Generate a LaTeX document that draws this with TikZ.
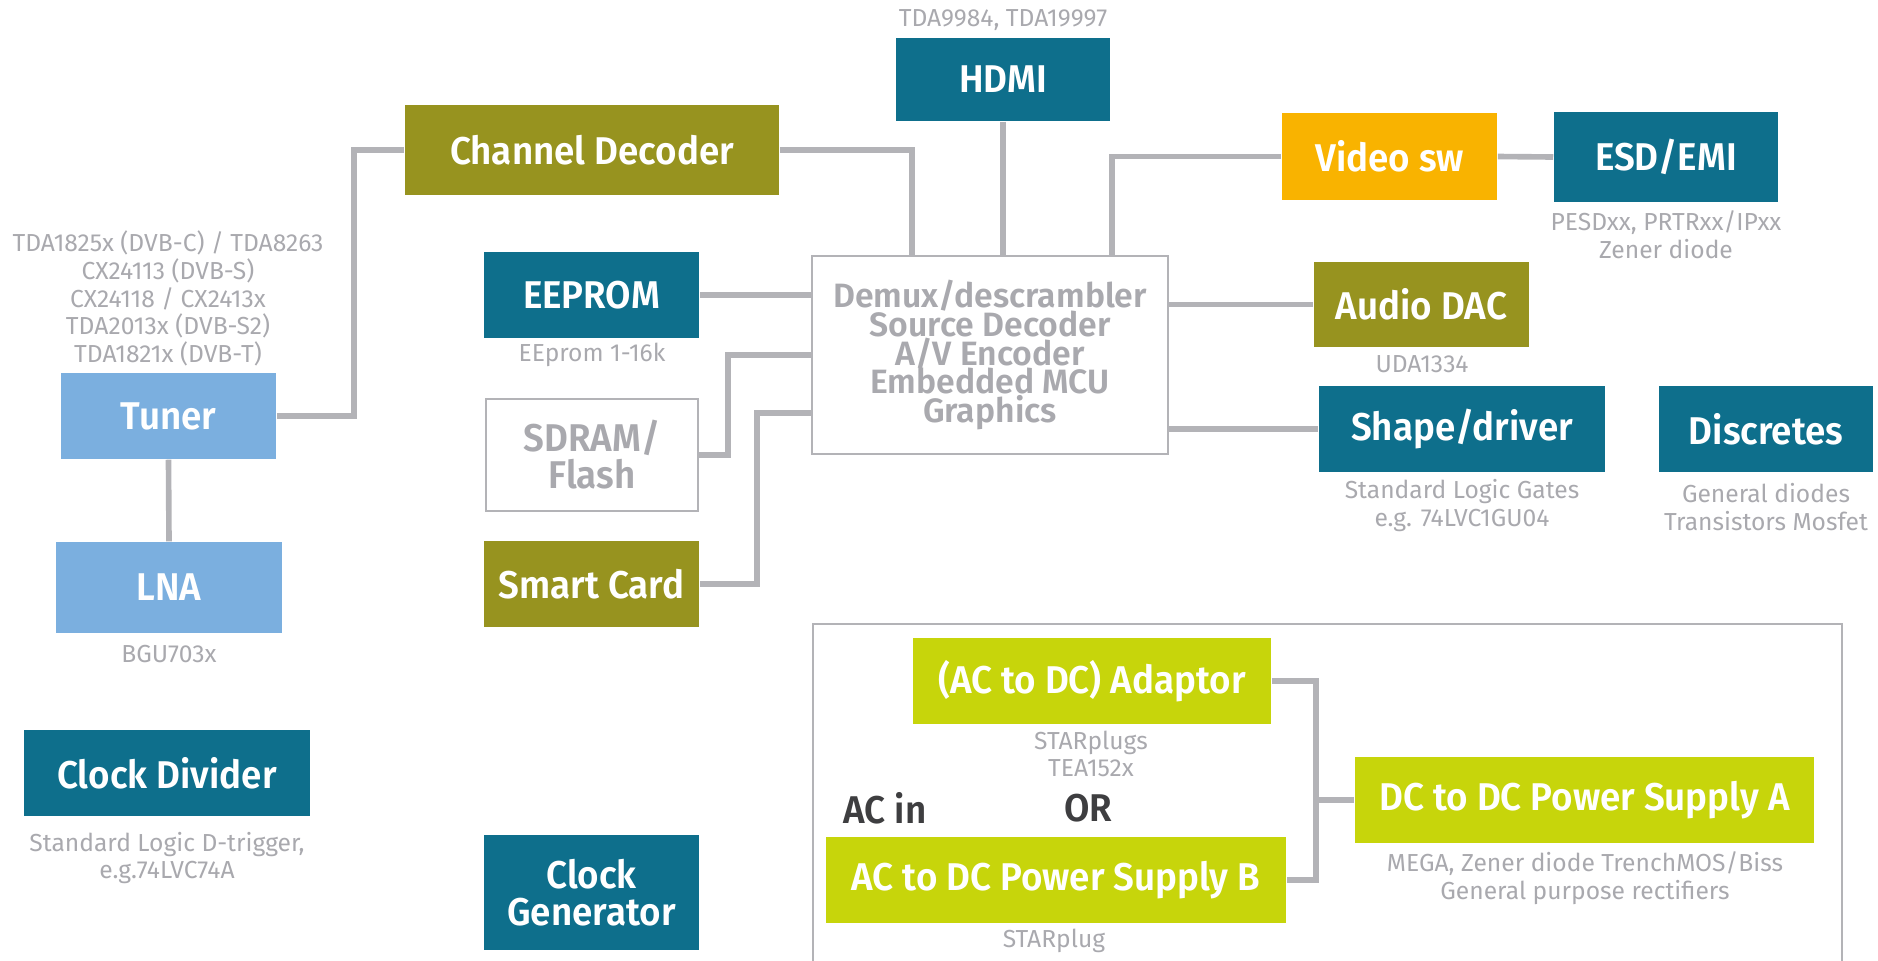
\documentclass[tikz,border=0pt]{standalone}
\usepackage{fontspec}
\setmainfont{Fira Sans}
\newfontfamily\boxfont[FakeStretch=0.95]{Fira Sans SemiBold}
\newfontfamily\corefont{Fira Sans SemiBold}
\newcommand\tightlines{\lineskiplimit=-20pt\relax\lineskip=0pt\relax}
\definecolor{boxteal}{HTML}{0E6F8C}
\definecolor{boxolive}{HTML}{97931F}
\definecolor{boxblue}{HTML}{7BAFDF}
\definecolor{boxyellow}{HTML}{F9B300}
\definecolor{boxlime}{HTML}{C7D50B}
\definecolor{wiregray}{HTML}{B3B3B7}
\definecolor{notegray}{HTML}{A9A9AE}
\definecolor{textdark}{HTML}{3E3E40}
\tikzset{
  box/.style={minimum width=2.15cm, minimum height=0.86cm, inner sep=0pt,
    text=white, align=center, font=\boxfont\fontsize{11}{10.5}\selectfont},
  tealbox/.style={box, fill=boxteal},
  olivebox/.style={box, fill=boxolive},
  bluebox/.style={box, fill=boxblue},
  yellowbox/.style={box, fill=boxyellow},
  limebox/.style={box, fill=boxlime},
  framebox/.style={box, draw=wiregray, line width=0.7pt, text=notegray},
  note/.style={text=notegray, align=center, inner sep=0pt,
    font=\fontsize{7}{7.9}\selectfont},
  wire/.style={draw=wiregray, line width=1.6pt}
}
\begin{document}
\begin{tikzpicture}[x=0.01cm, y=-0.01cm]
  \useasboundingbox (0,0) rectangle (1878,960);
  % tuner chain
  \node[bluebox] (tuner) at (168.5,416) {Tuner};
  \node[bluebox, minimum width=2.26cm, minimum height=0.91cm] (lna) at (169,587.5) {LNA};
  \node[note] (tunernote) at (168,298.5) {TDA1825x (DVB-C) / TDA8263\\CX24113 (DVB-S)\\CX24118 / CX2413x\\TDA2013x (DVB-S2)\\TDA1821x (DVB-T)};
  \node[note] (lnanote) at (169,654) {BGU703x};
  \node[olivebox, minimum width=3.74cm, minimum height=0.9cm] (chan) at (592,150) {Channel Decoder};
  \draw[wire] (tuner.east) -- ++(77,0) |- (chan.west);
  \draw[wire] (tuner.south) -- (lna.north);
  % left column
  \node[tealbox] (eeprom) at (591.5,295) {EEPROM};
  \node[note] (eepromnote) at (592,355) {EEprom 1-16k};
  \node[framebox, minimum width=2.12cm, minimum height=1.12cm] (sdram) at (592,455) {SDRAM/\\Flash};
  \node[olivebox] (smart) at (591.5,584) {Smart Card};
  \node[tealbox, minimum width=2.86cm] (clkdiv) at (167,773) {Clock Divider};
  \node[note] (clkdivnote) at (167,858) {Standard Logic D-trigger,\\e.g.74LVC74A};
  \node[tealbox, minimum height=1.15cm] (clkgen) at (591.5,892.5) {Clock\\Generator};
  % core
  \node[framebox, minimum width=3.56cm, minimum height=1.98cm,
    font=\corefont\fontsize{9.6}{8.2}\selectfont\tightlines] (demux) at (990,355)
    {Demux/descrambler\\Source Decoder\\A/V Encoder\\Embedded MCU\\Graphics};
  \node[tealbox, minimum width=2.14cm, minimum height=0.83cm] (hdmi) at (1003,79.5) {HDMI};
  \node[note] (hdminote) at (1003,20) {TDA9984, TDA19997};
  \draw[wire] (chan.east) -| ([xshift=-0.78cm]demux.north);
  \draw[wire] (hdmi.south) -- (hdmi.south |- demux.north);
  \draw[wire] (eeprom.east) -- (eeprom.east -| demux.west);
  \draw[wire] (sdram.east) -- ++(29,0) |- (demux.west);
  \draw[wire] (smart.east) -- ++(57,0) |- ([yshift=-0.58cm]demux.west);
  % right side
  \node[yellowbox, minimum height=0.87cm] (video) at (1389.5,156.5) {Video sw};
  \node[tealbox, minimum width=2.24cm, minimum height=0.9cm] (esd) at (1666,157) {ESD/EMI};
  \node[note] (esdnote) at (1666,234.5) {PESDxx, PRTRxx/IPxx\\Zener diode};
  \node[olivebox, minimum height=0.85cm] (dac) at (1421.5,304.5) {Audio DAC};
  \node[note] (dacnote) at (1422,364) {UDA1334};
  \node[tealbox, minimum width=2.86cm] (shape) at (1462,429) {Shape/driver};
  \node[note] (shapenote) at (1462,505.5) {Standard Logic Gates\\e.g. 74LVC1GU04};
  \node[tealbox, minimum width=2.14cm] (disc) at (1766,429) {Discretes};
  \node[note] (discnote) at (1766,507) {General diodes\\Transistors Mosfet};
  \draw[wire] (video.west) -| ([xshift=1.22cm]demux.north);
  \draw[wire] (video.east) -- (esd.west);
  \draw[wire] (dac.west) -- (dac.west -| demux.east);
  \draw[wire] (shape.west) -- (shape.west -| demux.east);
  % power supply
  \draw[draw=wiregray, line width=0.7pt] (813,965) -- (813,624) -- (1842,624) -- (1842,965);
  \node[limebox, minimum width=3.58cm] (adapt) at (1092,681) {(AC to DC) Adaptor};
  \node[note] (adaptnote) at (1091,754) {STARplugs\\TEA152x};
  \node[limebox, minimum width=4.59cm] (dcdc) at (1584.5,800) {DC to DC Power Supply A};
  \node[note] (dcdcnote) at (1585,878) {MEGA, Zener diode TrenchMOS/Biss\\General purpose rectifiers};
  \node[limebox, minimum width=4.6cm] (acdc) at (1056,880) {AC to DC Power Supply B};
  \node[note] (acdcnote) at (1054,941) {STARplug};
  \node[text=textdark, font=\boxfont\fontsize{11}{10.5}\selectfont] (acin) at (885,808) {AC in};
  \node[text=textdark, font=\boxfont\fontsize{11}{10.5}\selectfont] (ortext) at (1088,808) {OR};
  \coordinate (psjoin) at (1316,800);
  \draw[wire] (adapt.east) -| (psjoin) |- (acdc.east);
  \draw[wire] (psjoin) -- (dcdc.west);
\end{tikzpicture}
\end{document}
